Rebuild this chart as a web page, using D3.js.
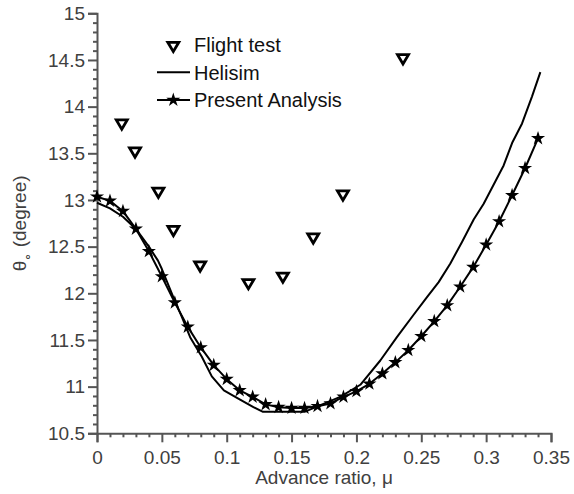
<!DOCTYPE html>
<html>
<head>
<meta charset="utf-8">
<script src="https://cdn.jsdelivr.net/npm/d3@7"></script>
<style>
  html, body { margin: 0; padding: 0; background: #fff; }
  svg { display: block; }
  text { font-family: "Liberation Sans", Arial, Helvetica, sans-serif; }
</style>
</head>
<body>
<div id="chart"></div>
<script>
// ---- Data ----
const flightMu    = [0.0191, 0.0293, 0.0473, 0.0589, 0.0795, 0.1167, 0.1433, 0.1667, 0.1896, 0.2359];
const flightTheta = [13.81, 13.51, 13.08, 12.67, 12.29, 12.10, 12.17, 12.59, 13.05, 14.51];

const helisimMu    = [0, 0.01, 0.02, 0.03, 0.04, 0.047, 0.05, 0.06, 0.065, 0.0718, 0.0808, 0.0885, 0.0978, 0.1103, 0.1206, 0.128, 0.16, 0.1695, 0.1875, 0.203, 0.2184, 0.2312, 0.2441, 0.2544, 0.2634, 0.2724, 0.2814, 0.2904, 0.2981, 0.3135, 0.32, 0.3277, 0.3354, 0.3418];
const helisimTheta = [12.97, 12.91, 12.82, 12.69, 12.50, 12.35, 12.26, 11.92, 11.76, 11.53, 11.32, 11.11, 10.96, 10.86, 10.78, 10.73, 10.73, 10.785, 10.89, 11.02, 11.28, 11.53, 11.77, 11.96, 12.12, 12.32, 12.55, 12.79, 12.96, 13.37, 13.61, 13.82, 14.11, 14.37];

const presentMu    = [0, 0.01, 0.02, 0.03, 0.04, 0.05, 0.06, 0.07, 0.08, 0.09, 0.10, 0.11, 0.12, 0.13, 0.14, 0.15, 0.16, 0.17, 0.18, 0.19, 0.20, 0.21, 0.22, 0.23, 0.24, 0.25, 0.26, 0.27, 0.28, 0.29, 0.30, 0.31, 0.32, 0.33, 0.34];
const presentTheta = [13.035, 12.99, 12.88, 12.69, 12.45, 12.18, 11.90, 11.64, 11.42, 11.23, 11.08, 10.96, 10.89, 10.81, 10.78, 10.77, 10.77, 10.79, 10.82, 10.89, 10.95, 11.03, 11.14, 11.26, 11.39, 11.54, 11.70, 11.87, 12.07, 12.28, 12.52, 12.77, 13.05, 13.34, 13.66];

const xTicks = [0, 0.05, 0.1, 0.15, 0.2, 0.25, 0.3, 0.35];
const xTickLabels = ["0", "0.05", "0.1", "0.15", "0.2", "0.25", "0.3", "0.35"];
const yTicks = [10.5, 11, 11.5, 12, 12.5, 13, 13.5, 14, 14.5, 15];
const yTickLabels = ["10.5", "11", "11.5", "12", "12.5", "13", "13.5", "14", "14.5", "15"];
const xMinor = [0.01,0.02,0.03,0.04,0.06,0.07,0.08,0.09,0.11,0.12,0.13,0.14,0.16,0.17,0.18,0.19,0.21,0.22,0.23,0.24,0.26,0.27,0.28,0.29,0.31,0.32,0.33,0.34];
const yMinor = [10.6,10.7,10.8,10.9,11.1,11.2,11.3,11.4,11.6,11.7,11.8,11.9,12.1,12.2,12.3,12.4,12.6,12.7,12.8,12.9,13.1,13.2,13.3,13.4,13.6,13.7,13.8,13.9,14.1,14.2,14.3,14.4,14.6,14.7,14.8,14.9];

const legendLabels = ["Flight test", "Helisim", "Present Analysis"];

// ---- Layout ----
const W = 574, H = 494;
const pLeft = 97, pRight = 551, pTop = 13.3, pBottom = 433.3;
const axisColor = "#555";
const textColor = "#404040";
const fontSize = 19;

const svg = d3.select("#chart").append("svg").attr("width", W).attr("height", H);

const x = d3.scaleLinear().domain([0, 0.35]).range([pLeft, pRight]);
const y = d3.scaleLinear().domain([10.5, 15]).range([pBottom, pTop]);

// X axis
const xAxis = d3.axisBottom(x).tickValues(xTicks)
  .tickFormat((d, i) => xTickLabels[i]).tickSize(9).tickPadding(8);
const gx = svg.append("g").attr("transform", `translate(0,${pBottom})`).call(xAxis);
gx.select(".domain").attr("stroke", axisColor).attr("stroke-width", 2);
gx.selectAll(".tick line").attr("stroke", axisColor).attr("stroke-width", 2);
gx.selectAll(".tick text").attr("fill", textColor).attr("font-size", fontSize)
  .attr("font-family", "Liberation Sans, Arial, sans-serif");
const gxm = svg.append("g").attr("transform", `translate(0,${pBottom})`)
  .call(d3.axisBottom(x).tickValues(xMinor).tickSize(4).tickFormat(""));
gxm.select(".domain").remove();
gxm.selectAll(".tick line").attr("stroke", axisColor).attr("stroke-width", 2);

// Y axis
const yAxis = d3.axisLeft(y).tickValues(yTicks)
  .tickFormat((d, i) => yTickLabels[i]).tickSize(9).tickPadding(3);
const gy = svg.append("g").attr("transform", `translate(${pLeft},0)`).call(yAxis);
gy.select(".domain").attr("stroke", axisColor).attr("stroke-width", 2);
gy.selectAll(".tick line").attr("stroke", axisColor).attr("stroke-width", 2);
gy.selectAll(".tick text").attr("fill", textColor).attr("font-size", fontSize)
  .attr("font-family", "Liberation Sans, Arial, sans-serif");
const gym = svg.append("g").attr("transform", `translate(${pLeft},0)`)
  .call(d3.axisLeft(y).tickValues(yMinor).tickSize(4).tickFormat(""));
gym.select(".domain").remove();
gym.selectAll(".tick line").attr("stroke", axisColor).attr("stroke-width", 2);

// Axis titles
svg.append("text").attr("x", (pLeft + pRight) / 2).attr("y", 484)
  .attr("text-anchor", "middle").attr("fill", textColor).attr("font-size", fontSize)
  .text("Advance ratio, μ");

const yt = svg.append("text")
  .attr("transform", `translate(26,${(pTop + pBottom) / 2}) rotate(-90)`)
  .attr("text-anchor", "middle").attr("fill", textColor).attr("font-size", fontSize);
yt.append("tspan").text("θ");
yt.append("tspan").attr("font-size", 13).attr("dy", 5).text("∘");
yt.append("tspan").attr("dy", -5).text(" (degree)");

// Lines
const helisim = helisimMu.map((m, i) => [m, helisimTheta[i]]);
const present = presentMu.map((m, i) => [m, presentTheta[i]]);
const flight = flightMu.map((m, i) => [m, flightTheta[i]]);

const line = d3.line().x(d => x(d[0])).y(d => y(d[1]));

svg.append("path").datum(helisim).attr("d", line)
  .attr("fill", "none").attr("stroke", "#000").attr("stroke-width", 2).attr("stroke-linejoin", "round");
svg.append("path").datum(present).attr("d", line)
  .attr("fill", "none").attr("stroke", "#000").attr("stroke-width", 2).attr("stroke-linejoin", "round");

const star = d3.symbol().type(d3.symbolStar).size(62);
svg.append("g").selectAll("path").data(present).join("path")
  .attr("d", star).attr("transform", d => `translate(${x(d[0])},${y(d[1])})`)
  .attr("fill", "#000");

const triPath = "M-5.5,-4.4L5.5,-4.4L0,4.9Z";
svg.append("g").selectAll("path").data(flight).join("path")
  .attr("d", triPath).attr("transform", d => `translate(${x(d[0])},${y(d[1])})`)
  .attr("fill", "none").attr("stroke", "#000").attr("stroke-width", 2.8).attr("stroke-linejoin", "miter");

// Legend
const lg = svg.append("g");
lg.append("path").attr("d", triPath).attr("transform", "translate(173.3,46.7)")
  .attr("fill", "none").attr("stroke", "#000").attr("stroke-width", 2.8);
lg.append("line").attr("x1", 157).attr("x2", 190).attr("y1", 72.3).attr("y2", 72.3)
  .attr("stroke", "#000").attr("stroke-width", 2);
lg.append("line").attr("x1", 157).attr("x2", 190).attr("y1", 100).attr("y2", 100)
  .attr("stroke", "#000").attr("stroke-width", 2);
lg.append("path").attr("d", star).attr("transform", "translate(173.3,100)").attr("fill", "#000");
const legY = [52, 79.5, 107.3];
legendLabels.forEach((t, i) => {
  lg.append("text").attr("x", 194).attr("y", legY[i]).attr("fill", "#111")
    .attr("font-size", 20).text(t);
});
</script>
</body>
</html>
